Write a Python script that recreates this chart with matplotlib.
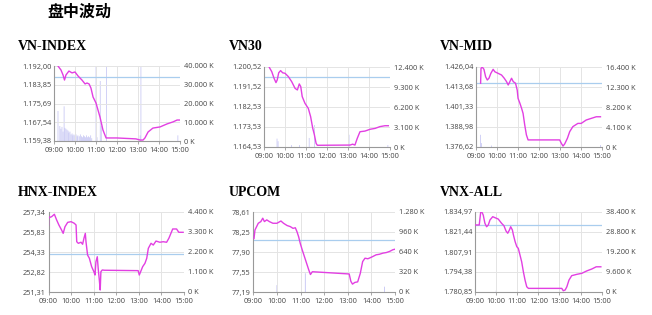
import numpy as np
import matplotlib
matplotlib.use("Agg")
import matplotlib.pyplot as plt

plt.rcParams['font.family'] = ['Open Sans', 'DejaVu Sans']

# ===== data (time in hours) =====
vni_t = [9.19, 9.33, 9.43, 9.50, 9.57, 9.71, 9.86, 10.0, 10.14, 10.33, 10.48, 10.57, 10.67, 10.76,
         10.86, 11.0, 11.19, 11.33, 11.48, 12.0, 12.9, 13.1, 13.24, 13.33, 13.48, 13.71, 14.05,
         14.38, 14.67, 14.86, 15.0]
vni_v = [1192.0, 1190.3, 1188.1, 1185.9, 1188.1, 1189.8, 1189.0, 1189.4, 1187.7, 1185.9, 1184.2,
         1184.6, 1184.2, 1182.4, 1178.5, 1175.9, 1169.8, 1164.2, 1160.7, 1160.7, 1160.3, 1159.8,
         1159.8, 1160.7, 1163.3, 1165.0, 1165.5, 1166.8, 1167.7, 1168.5, 1168.5]
vni_vol_t = [9.19, 9.28, 9.33, 9.38, 9.43, 9.48, 9.52, 9.57, 9.62, 9.67, 9.71, 9.76, 9.81, 9.86,
             9.90, 9.95, 10.0, 10.05, 10.1, 10.14, 10.2, 10.25, 10.3, 10.35, 10.4, 10.45, 10.5,
             10.55, 10.6, 10.65, 10.7, 10.75, 10.8, 11.0, 11.05, 11.2, 11.25, 11.5, 13.1, 13.14, 14.9]
vni_vol = [16000, 8000, 6500, 7500, 5000, 18500, 7000, 6500, 6000, 5500, 4500, 5000, 3500, 4000,
           3000, 3500, 3000, 3500, 2500, 3000, 2500, 3500, 2500, 2000, 3000, 2500, 2000, 3000,
           2000, 2500, 2000, 3000, 1500, 40000, 2000, 32000, 8000, 40000, 3000, 40000, 3000]

vn30_t = [9.25, 9.37, 9.48, 9.57, 9.63, 9.70, 9.79, 9.89, 10.0, 10.16, 10.32, 10.48, 10.59, 10.68,
          10.75, 10.82, 10.95, 11.11, 11.22, 11.32, 11.40, 11.48, 11.54, 13.1, 13.22, 13.33, 13.44,
          13.57, 13.81, 14.05, 14.29, 14.52, 14.76, 14.92]
vn30_v = [1200.4, 1198.4, 1195.4, 1193.5, 1194.7, 1197.9, 1198.9, 1197.9, 1197.7, 1196.2, 1193.9,
          1190.9, 1190.2, 1192.9, 1191.7, 1187.2, 1184.2, 1181.9, 1178.2, 1173.0, 1170.0, 1166.2,
          1165.3, 1165.4, 1165.8, 1165.4, 1168.4, 1171.4, 1171.7, 1172.5, 1172.9, 1173.7, 1174.1,
          1174.1]
vn30_vol_t = [9.62, 9.67, 10.3, 10.7, 11.15, 11.4, 13.05, 14.9]
vn30_vol = [1300, 900, 300, 300, 1400, 3400, 1900, 300]

mid_t = [9.22, 9.24, 9.30, 9.38, 9.46, 9.54, 9.62, 9.71, 9.82, 9.90, 10.06, 10.22, 10.35, 10.46,
         10.54, 10.62, 10.70, 10.78, 10.89, 10.97, 11.01, 11.10, 11.18, 11.25, 11.33, 11.41, 11.49,
         13.0, 13.08, 13.16, 13.24, 13.37, 13.48, 13.63, 13.87, 14.03, 14.27, 14.51, 14.75, 14.95]
mid_v = [1416.0, 1425.2, 1426.0, 1424.6, 1420.0, 1418.0, 1419.1, 1422.1, 1424.6, 1423.1, 1422.1,
         1421.1, 1419.1, 1417.0, 1414.9, 1417.0, 1419.1, 1417.0, 1416.0, 1411.8, 1406.7, 1403.6,
         1400.5, 1397.4, 1390.2, 1384.1, 1381.0, 1381.0, 1378.9, 1377.2, 1378.5, 1382.0, 1386.1,
         1389.2, 1391.2, 1391.2, 1393.3, 1394.3, 1395.3, 1395.3]
mid_vol_t = [9.22, 9.26, 9.75, 14.95]
mid_vol = [2500, 800, 300, 400]

hnx_t = [9.0, 9.0, 9.02, 9.14, 9.26, 9.36, 9.46, 9.58, 9.65, 9.73, 9.85, 10.0, 10.14, 10.22, 10.25,
         10.32, 10.44, 10.51, 10.57, 10.63, 10.66, 10.73, 10.81, 10.91, 11.01, 11.06, 11.10, 11.16,
         11.20, 11.25, 11.29, 11.32, 11.38, 11.47, 12.97, 13.02, 13.08, 13.17, 13.27, 13.35, 13.42,
         13.54, 13.64, 13.76, 13.93, 14.08, 14.23, 14.33, 14.42, 14.50, 14.67, 14.77, 14.96]
hnx_v = [256.36, 256.99, 256.91, 256.99, 257.17, 256.74, 256.36, 255.98, 255.73, 256.23, 256.56,
         256.61, 256.49, 256.36, 255.10, 254.98, 255.06, 254.91, 255.36, 255.73, 255.10, 254.10,
         253.85, 253.22, 252.84, 252.59, 253.59, 253.97, 253.10, 252.22, 251.46, 252.84, 252.97,
         252.95, 252.92, 252.59, 252.84, 253.22, 253.47, 253.85, 254.60, 254.98, 254.85, 255.15,
         255.06, 255.10, 255.06, 255.36, 255.73, 256.06, 256.06, 255.81, 255.81]
hnx_vol_t = [9.5]
hnx_vol = [0]

upc_t = [9.03, 9.07, 9.14, 9.21, 9.32, 9.40, 9.47, 9.57, 9.68, 9.83, 10.0, 10.17, 10.28, 10.43,
         10.57, 10.68, 10.78, 10.85, 10.92, 10.99, 11.07, 11.14, 11.21, 11.28, 11.35, 11.42, 11.50,
         13.06, 13.13, 13.20, 13.30, 13.42, 13.53, 13.63, 13.73, 13.85, 13.96, 14.06, 14.20, 14.34,
         14.49, 14.63, 14.77, 14.91, 15.0]
upc_v = [78.14, 78.29, 78.35, 78.41, 78.44, 78.50, 78.44, 78.47, 78.44, 78.41, 78.41, 78.45, 78.41,
         78.37, 78.35, 78.32, 78.33, 78.26, 78.17, 78.05, 77.94, 77.85, 77.76, 77.67, 77.58, 77.50,
         77.55, 77.51, 77.38, 77.33, 77.36, 77.37, 77.52, 77.73, 77.79, 77.78, 77.80, 77.82, 77.85,
         77.86, 77.88, 77.89, 77.91, 77.94, 77.95]
upc_vol_t = [10.0, 11.2, 14.55]
upc_vol = [110, 300, 85]

vnx_t = [9.0, 9.2, 9.27, 9.33, 9.39, 9.47, 9.55, 9.63, 9.71, 9.84, 9.95, 10.10, 10.26, 10.37,
         10.47, 10.55, 10.63, 10.69, 10.77, 10.82, 10.90, 10.98, 11.05, 11.13, 11.21, 11.29, 11.37,
         11.45, 11.53, 13.11, 13.18, 13.27, 13.35, 13.45, 13.58, 13.82, 14.06, 14.29, 14.53, 14.74,
         14.96]
vnx_v = [1826.2, 1826.2, 1834.9, 1834.8, 1832.9, 1827.3, 1825.0, 1826.2, 1829.6, 1831.8, 1831.1,
         1830.2, 1827.3, 1825.7, 1822.1, 1820.6, 1822.8, 1825.0, 1822.8, 1819.4, 1814.9, 1811.5,
         1810.4, 1805.9, 1801.3, 1794.6, 1788.9, 1784.4, 1783.3, 1783.3, 1781.7, 1782.2, 1784.4,
         1788.9, 1791.9, 1792.8, 1793.5, 1795.1, 1796.4, 1797.9, 1797.9]
vnx_vol_t = [10.0]
vnx_vol = [700]

ref_close = [1187.1, 1195.9, 1416.0, 254.15, 78.11, 1826.2]

y_labels = [
    ["1.159,38", "1.167,54", "1.175,69", "1.183,85", "1.192,00"],
    ["1.164,53", "1.173,53", "1.182,53", "1.191,52", "1.200,52"],
    ["1.376,62", "1.388,98", "1.401,33", "1.413,68", "1.426,04"],
    ["251,31", "252,82", "254,33", "255,83", "257,34"],
    ["77,19", "77,55", "77,90", "78,25", "78,61"],
    ["1.780,85", "1.794,38", "1.807,91", "1.821,44", "1.834,97"],
]
y_lims = [(1159.38, 1192.00), (1164.53, 1200.52), (1376.62, 1426.04),
          (251.31, 257.34), (77.19, 78.61), (1780.85, 1834.97)]
vol_labels = [
    ["0 K", "10.000 K", "20.000 K", "30.000 K", "40.000 K"],
    ["0 K", "3.100 K", "6.200 K", "9.300 K", "12.400 K"],
    ["0 K", "4.100 K", "8.200 K", "12.300 K", "16.400 K"],
    ["0 K", "1.100 K", "2.200 K", "3.300 K", "4.400 K"],
    ["0 K", "320 K", "640 K", "960 K", "1.280 K"],
    ["0 K", "9.600 K", "19.200 K", "28.800 K", "38.400 K"],
]
vol_max = [40000, 12400, 16400, 4400, 1280, 38400]

names = ["VN-INDEX", "VN30", "VN-MID", "HNX-INDEX", "UPCOM", "VNX-ALL"]
hours = [9, 10, 11, 12, 13, 14, 15]
hour_labels = ["09:00", "10:00", "11:00", "12:00", "13:00", "14:00", "15:00"]

series = [(vni_t, vni_v, vni_vol_t, vni_vol), (vn30_t, vn30_v, vn30_vol_t, vn30_vol),
          (mid_t, mid_v, mid_vol_t, mid_vol), (hnx_t, hnx_v, hnx_vol_t, hnx_vol),
          (upc_t, upc_v, upc_vol_t, upc_vol), (vnx_t, vnx_v, vnx_vol_t, vnx_vol)]

# ===== layout (pixels: left, top, right, bottom) =====
W, H = 652, 315
boxes = [(54, 66, 180, 141), (264, 67, 390, 147), (476, 67, 601.5, 147),
         (48.5, 212, 184, 292), (253.3, 212, 395, 292), (475, 212, 601.7, 292)]
title_pos = [(18, 47), (229, 47), (440, 47), (18, 192), (229, 192), (440, 192)]

LINE = "#e23fe2"
REF = "#a9cdee"
VOL = "#b4b4f0"
GRID = "#e4e4e4"
TXT = "#444444"

fig = plt.figure(figsize=(W / 100, H / 100), dpi=100)
fig.text(47 / W, 1 - 12 / H, "盘中波动", fontsize=11.5, fontweight="bold",
         family=["Noto Sans CJK SC", "DejaVu Sans"], va="center", ha="left")

for i in range(6):
    l, t, r, b = boxes[i]
    ax = fig.add_axes([l / W, 1 - b / H, (r - l) / W, (b - t) / H])
    ax2 = ax.twinx()
    ax.set_zorder(ax2.get_zorder() + 1)
    ax.patch.set_visible(False)

    tt, vv, vt, vol = series[i]
    lo, hi = y_lims[i]

    ax.set_xlim(9, 15)
    ax2.bar(vt, vol, width=0.028, color=VOL, linewidth=0, snap=False)
    ax2.set_ylim(0, vol_max[i])
    ax2.set_yticks(np.linspace(0, vol_max[i], 5))
    ax2.set_yticklabels(vol_labels[i])

    ax.axhline(ref_close[i], color=REF, lw=0.9, zorder=2)
    ax.plot(tt, vv, color=LINE, lw=1.0, zorder=3)
    ax.set_xlim(9, 15)
    ax.set_ylim(lo, hi)
    ax.set_yticks(np.linspace(lo, hi, 5))
    ax.set_yticklabels(y_labels[i])
    ax.set_xticks(hours)
    ax.set_xticklabels(hour_labels)
    ax.grid(True, color=GRID, lw=0.7, zorder=0)
    ax.set_axisbelow(True)

    for a in (ax, ax2):
        for s in ("top", "right", "left", "bottom"):
            a.spines[s].set_visible(False)
    for s in ("left", "bottom"):
        ax.spines[s].set_visible(True)
        ax.spines[s].set_color("#999999")
        ax.spines[s].set_linewidth(0.8)

    ax.tick_params(axis="y", length=0, pad=2, labelsize=5.3, labelcolor=TXT)
    ax.tick_params(axis="x", length=2, width=0.6, color="#999999", pad=2, labelsize=5.3,
                   labelcolor=TXT)
    ax2.tick_params(axis="y", length=0, pad=3, labelsize=5.3, labelcolor=TXT)

    fig.text(title_pos[i][0] / W, 1 - title_pos[i][1] / H, names[i], fontsize=10,
             fontweight="bold", family="Liberation Serif", va="center", ha="left")

fig.savefig("out.png", dpi=100)
